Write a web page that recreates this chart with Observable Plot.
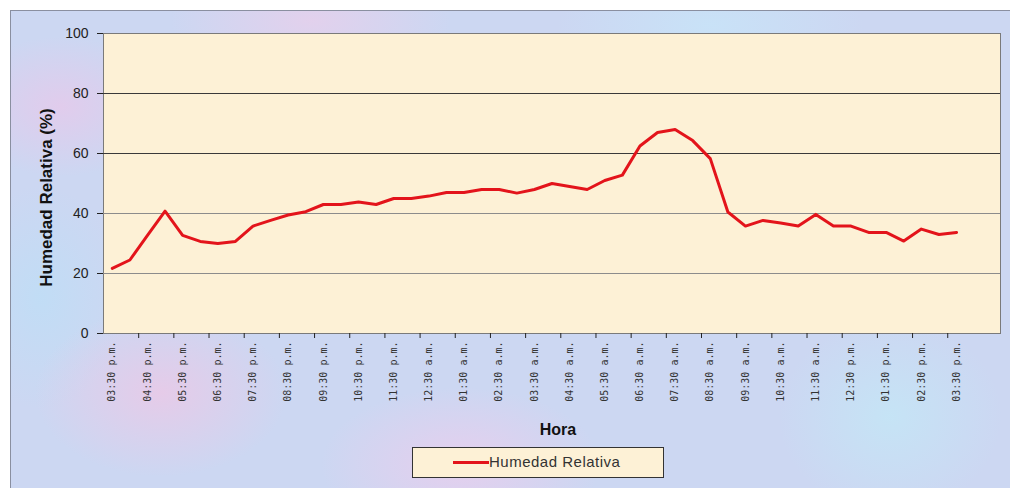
<!DOCTYPE html>
<html>
<head>
<meta charset="utf-8">
<script src="https://cdn.jsdelivr.net/npm/d3@7"></script>
<script src="https://cdn.jsdelivr.net/npm/@observablehq/plot@0.6"></script>
<style>
  html, body { margin: 0; padding: 0; background: #ffffff; }
  body { width: 1010px; height: 488px; position: relative; overflow: hidden; font-family: Arial, "Liberation Sans", sans-serif; }
  #texture {
    position: absolute; left: 10px; top: 10px; width: 1000px; height: 478px;
    background:
      radial-gradient(ellipse 180px 120px at 15% 80%, rgba(236,200,230,0.8), rgba(236,200,230,0) 70%),
      radial-gradient(ellipse 200px 110px at 45% 95%, rgba(238,204,236,0.75), rgba(238,204,236,0) 70%),
      radial-gradient(ellipse 160px 140px at 88% 85%, rgba(196,230,246,0.85), rgba(196,230,246,0) 70%),
      radial-gradient(ellipse 150px 100px at 5% 20%, rgba(232,200,234,0.75), rgba(232,200,234,0) 70%),
      radial-gradient(ellipse 120px 160px at 3% 60%, rgba(190,222,246,0.8), rgba(190,222,246,0) 70%),
      radial-gradient(ellipse 220px 90px at 70% 3%, rgba(200,228,248,0.85), rgba(200,228,248,0) 70%),
      radial-gradient(ellipse 200px 90px at 30% 2%, rgba(236,206,234,0.7), rgba(236,206,234,0) 70%),
      #ccd7f2;
    border-left: 1px solid #8a8fa0;
    border-top: 1px solid #8a8fa0;
    box-sizing: border-box;
  }
  #chart { position: absolute; left: 0; top: 0; }
  #chart svg { background: transparent !important; }
  #legend {
    position: absolute; left: 412px; top: 447px; width: 252px; height: 31px;
    background: #fdf1d6; border: 1px solid #333; box-sizing: border-box;
    font: 15px Arial, "Liberation Sans", sans-serif; color: #333; letter-spacing: 0.5px;
  }
  #legend .sw { position: absolute; left: 40px; top: 13px; width: 36px; height: 3px; background: #e3141b; }
  #legend .lb { position: absolute; left: 76px; top: 5px; }
</style>
</head>
<body>
<div id="texture"></div>
<div id="chart"></div>
<div id="legend"><div class="sw"></div><div class="lb">Humedad Relativa</div></div>
<script>
// Tick labels (every other half-hour reading)
const horas = [
  "03:30 p.m.", "04:30 p.m.", "05:30 p.m.", "06:30 p.m.", "07:30 p.m.",
  "08:30 p.m.", "09:30 p.m.", "10:30 p.m.", "11:30 p.m.", "12:30 a.m.",
  "01:30 a.m.", "02:30 a.m.", "03:30 a.m.", "04:30 a.m.", "05:30 a.m.",
  "06:30 a.m.", "07:30 a.m.", "08:30 a.m.", "09:30 a.m.", "10:30 a.m.",
  "11:30 a.m.", "12:30 p.m.", "01:30 p.m.", "02:30 p.m.", "03:30 p.m."
];
// Relative humidity (%) every 30 minutes
const humedad = [
  21.7, 24.5, 32.7, 40.8, 32.7, 30.7, 30.0, 30.7, 35.8, 37.7,
  39.5, 40.6, 43.0, 43.0, 43.8, 43.0, 45.0, 45.0, 45.8, 47.0,
  47.0, 48.0, 48.0, 46.8, 48.0, 50.0, 49.0, 48.0, 51.0, 52.8,
  62.5, 67.0, 68.0, 64.3, 58.3, 40.5, 35.8, 37.7, 36.8, 35.8,
  39.7, 35.8, 35.8, 33.7, 33.7, 30.8, 34.8, 33.0, 33.7
];
const nCategorias = 51;
const yTicks = [0, 20, 40, 60, 80, 100];
const gridOscuro = [60, 80];
const gridClaro = [20, 40];

const data = humedad.map((v, i) => ({i, v}));
const labelPos = horas.map((_, k) => 2 * k);
const tickPos = d3.range(1, horas.length).map(k => 2 * k - 0.5);

const chart = Plot.plot({
  width: 1010,
  height: 440,
  marginLeft: 103,
  marginRight: 10,
  marginTop: 33,
  marginBottom: 107,
  style: {background: "transparent", fontFamily: "Arial, 'Liberation Sans', sans-serif"},
  x: {type: "linear", domain: [-0.5, nCategorias - 0.5]},
  y: {domain: [0, 100]},
  marks: [
    Plot.frame({fill: "#fdf1d6", stroke: "#7a7a7a"}),
    Plot.ruleY(gridClaro, {stroke: "#8c8c8c", strokeWidth: 1}),
    Plot.ruleY(gridOscuro, {stroke: "#3a3a3a", strokeWidth: 1}),
    Plot.axisY({ticks: yTicks, tickSize: 6, tickPadding: 9, fontSize: 14, line: true, stroke: "#222", color: "#222", label: null}),
    Plot.axisX({ticks: tickPos, tickSize: 5, tickFormat: () => "", line: true, stroke: "#222", label: null}),
    Plot.axisX({ticks: labelPos, tickSize: 0, tickPadding: 8, tickRotate: -90, fontSize: 10,
      fontFamily: "'DejaVu Sans Mono', monospace", fill: "#333",
      tickFormat: d => horas[d / 2], label: null}),
    Plot.line(data, {x: "i", y: "v", stroke: "#e3141b", strokeWidth: 3, strokeLinejoin: "round"}),
    Plot.text(["Humedad Relativa (%)"], {frameAnchor: "left", dx: -57, dy: 14, rotate: -90, textAnchor: "middle",
      lineAnchor: "middle", fontSize: 17, fontWeight: "bold", fill: "#111"}),
    Plot.text(["Hora"], {frameAnchor: "bottom", dx: 6, dy: 96, lineAnchor: "middle", fontSize: 16, fontWeight: "bold", fill: "#111"})
  ]
});
document.getElementById("chart").appendChild(chart);
</script>
</body>
</html>
